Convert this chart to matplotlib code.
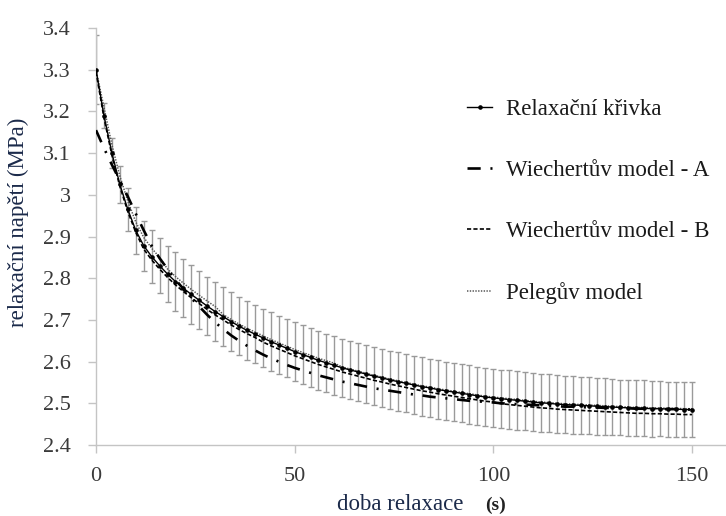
import numpy as np
import matplotlib
matplotlib.use("Agg")
import matplotlib.pyplot as plt
from matplotlib.lines import Line2D

plt.rcParams['font.family'] = ['Liberation Serif', 'DejaVu Serif']
plt.rcParams['lines.scale_dashes'] = False

# time (s)
time_s = list(range(0, 151, 2))

# measured relaxation curve (mean) and standard deviation
relax_mean = [3.300, 3.190, 3.100, 3.025, 2.965, 2.915,
              2.878, 2.852, 2.830, 2.810, 2.792, 2.776, 2.761, 2.747, 2.733, 2.720, 2.708, 2.696, 2.685, 2.675, 2.666,
              2.657, 2.648, 2.640, 2.632, 2.624, 2.617, 2.610, 2.603, 2.597, 2.591,
              2.585, 2.580, 2.575, 2.570, 2.565, 2.561, 2.556, 2.552, 2.548, 2.544,
              2.540, 2.537, 2.533, 2.530, 2.527, 2.524, 2.521, 2.518, 2.515, 2.513,
              2.511, 2.509, 2.507, 2.505, 2.503, 2.501, 2.500, 2.498, 2.497, 2.496,
              2.495, 2.494, 2.493, 2.492, 2.491, 2.490, 2.489, 2.488, 2.488, 2.487,
              2.487, 2.486, 2.486, 2.485, 2.485]
relax_sd = [0.083, 0.030, 0.036, 0.045, 0.052, 0.056, 0.060, 0.063, 0.066, 0.068] + \
           [0.070] * 46 + \
           [0.070, 0.070, 0.069, 0.069, 0.069, 0.069, 0.068, 0.068, 0.068, 0.068,
            0.067, 0.067, 0.067, 0.067, 0.067, 0.066, 0.066, 0.066, 0.066, 0.066]

# Wiechert model A
wiech_a = [3.155, 3.112, 3.072, 3.034, 2.996, 2.955, 2.915, 2.878, 2.848, 2.822, 2.797,
           2.774, 2.752, 2.732, 2.712, 2.694, 2.678, 2.663, 2.650, 2.638, 2.627,
           2.617, 2.608, 2.600, 2.592, 2.585, 2.579, 2.573, 2.567, 2.562, 2.557,
           2.552, 2.548, 2.544, 2.540, 2.536, 2.533, 2.530, 2.527, 2.524, 2.521,
           2.519, 2.516, 2.514, 2.512, 2.510, 2.508, 2.506, 2.505, 2.503, 2.502,
           2.500, 2.499, 2.498, 2.497, 2.496, 2.495, 2.494, 2.493, 2.492, 2.492,
           2.491, 2.490, 2.490, 2.489, 2.489, 2.488, 2.488, 2.487, 2.487, 2.487,
           2.486, 2.486, 2.486, 2.485, 2.485]

# Wiechert model B
wiech_b = [3.295, 3.185, 3.095, 3.020, 2.960, 2.910,
           2.870, 2.844, 2.822, 2.802, 2.784, 2.768, 2.753, 2.739, 2.725, 2.712, 2.700, 2.688, 2.677, 2.667, 2.658,
           2.647, 2.638, 2.630, 2.622, 2.614, 2.607, 2.600, 2.593, 2.587, 2.581,
           2.575, 2.570, 2.565, 2.560, 2.555, 2.551, 2.546, 2.542, 2.538, 2.534,
           2.530, 2.527, 2.523, 2.520, 2.517, 2.514, 2.511, 2.508, 2.505, 2.503,
           2.499, 2.497, 2.495, 2.493, 2.491, 2.489, 2.488, 2.486, 2.485, 2.484,
           2.483, 2.482, 2.481, 2.480, 2.479, 2.478, 2.477, 2.476, 2.476, 2.475,
           2.475, 2.474, 2.474, 2.473, 2.473]

# Peleg model
peleg = [3.300,
         3.210, 3.120, 3.045, 2.985, 2.935, 2.898, 2.872, 2.850,
         2.822, 2.804, 2.788, 2.773, 2.759, 2.745, 2.732,
         2.713, 2.701, 2.690, 2.680, 2.671, 2.662, 2.653, 2.645, 2.637, 2.629, 2.622, 2.615, 2.608, 2.602, 2.596,
         2.587, 2.582, 2.577, 2.572, 2.567, 2.563, 2.558, 2.554, 2.550, 2.546,
         2.542, 2.539, 2.535, 2.532, 2.529, 2.526, 2.523, 2.520, 2.517, 2.515,
         2.513, 2.511, 2.509, 2.507, 2.505, 2.503, 2.502, 2.500, 2.499, 2.498,
         2.497, 2.496, 2.495, 2.494, 2.493, 2.492, 2.491, 2.490, 2.490, 2.489,
         2.489, 2.488, 2.488, 2.487, 2.487]

y_ticks = [2.4, 2.5, 2.6, 2.7, 2.8, 2.9, 3.0, 3.1, 3.2, 3.3, 3.4]
y_ticklabels = ["2.4", "2.5", "2.6", "2.7", "2.8", "2.9", "3", "3.1", "3.2", "3.3", "3.4"]
x_ticks = [0, 50, 100, 150]
x_ticklabels = ["0", "50", "100", "150"]

legend_labels = ["Relaxační křivka", "Wiechertův model - A", "Wiechertův model - B", "Pelegův model"]

W, H = 726, 516
fig = plt.figure(figsize=(W / 100, H / 100), dpi=100)
ax = fig.add_axes([96 / W, (H - 445) / H, (W - 96) / W, (445 - 28) / H])

axis_gray = '#c4c4c4'
text_gray = '#3a3a3a'
label_blue = '#1b2a4a'

ax.errorbar(time_s, relax_mean, yerr=relax_sd, fmt='none', ecolor='#9a9a9a',
            elinewidth=1.0, capsize=2.3, capthick=1.0, zorder=1)

l_peleg, = ax.plot(time_s, peleg, color='#555555', lw=1.1, linestyle=(0, (1.0, 1.0)), zorder=2)
l_b, = ax.plot(time_s, wiech_b, color='black', lw=1.2, linestyle=(0, (3.0, 1.6)), zorder=3)
l_a, = ax.plot(time_s, wiech_a, color='black', lw=1.9, linestyle=(0, (9.5, 7.0, 1.5, 7.0)), zorder=3)
l_main, = ax.plot(time_s, relax_mean, color='black', lw=1.0, marker='o', markersize=2.3, zorder=4)

ax.set_xlim(0, (W - 96) / 3.973)
ax.set_ylim(2.4, 3.4)
ax.set_xticks(x_ticks)
ax.set_xticklabels(x_ticklabels)
ax.set_yticks(y_ticks)
ax.set_yticklabels(y_ticklabels)

for s in ['top', 'right']:
    ax.spines[s].set_visible(False)
for s in ['left', 'bottom']:
    ax.spines[s].set_color(axis_gray)
    ax.spines[s].set_linewidth(1.0)

ax.tick_params(axis='both', colors=axis_gray, length=6, width=1.0, direction='out',
               labelsize=16, labelcolor=text_gray)
ax.tick_params(axis='y', pad=12)
ax.tick_params(axis='x', pad=10)

# axis labels
fig.text(18 / W, 1 - 222 / H, "relaxační napětí (MPa)", rotation=90, ha='center', va='center',
         fontsize=16.5, color=label_blue)
fig.text(337 / W, 1 - 505 / H, "doba relaxace", ha='left', va='center', fontsize=16.5, color=label_blue)
fig.text(485 / W, 1 - 505 / H, "(s)", ha='left', va='center', fontsize=14, fontweight='bold', color='#222222')

leg = fig.legend([l_main, l_a, l_b, l_peleg], legend_labels, loc='upper left',
                 bbox_to_anchor=(467 / W, 1 - 99 / H), frameon=False, fontsize=16.5,
                 handlelength=1.1, handletextpad=0.6, labelspacing=1.75,
                 borderpad=0, borderaxespad=0)
for t in leg.get_texts():
    t.set_color('#1a1a1a')

fig.savefig("out.png", dpi=100)
